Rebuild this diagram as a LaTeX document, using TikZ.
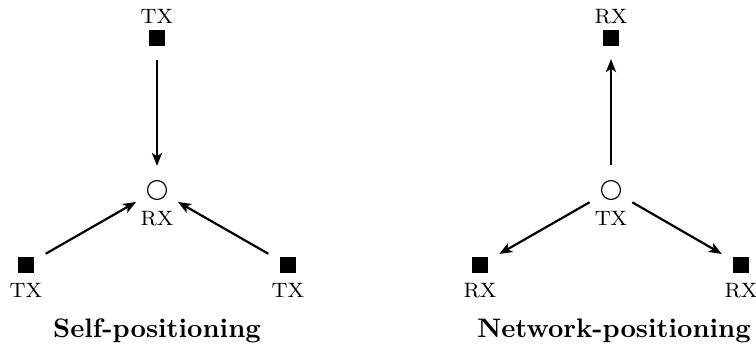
\documentclass[tikz,border=0pt]{standalone}
\usetikzlibrary{arrows.meta}
\begin{document}
\begin{tikzpicture}[x=0.3846pt, y=-0.3846pt,
  dev/.style={draw, fill=black, minimum size=5.4pt, inner sep=0pt, outer sep=0pt},
  hub/.style={draw, circle, line width=0.45pt, minimum size=7.3pt, inner sep=0pt},
  tag/.style={font=\footnotesize, anchor=base, inner sep=0pt},
  title/.style={font=\fontsize{10.3}{12}\selectfont\bfseries, anchor=base, inner sep=0pt},
  link/.style={line width=0.85pt, -{Stealth[length=5pt, width=3.9pt, inset=1.3pt]},
               shorten <=5.6pt, shorten >=5.4pt}]
  \useasboundingbox (0,0) rectangle (756,354);

  % Self-positioning: three transmitters around one receiver
  \node[hub] (sc) at (157,190) {};
  \node[dev] (st) at (157,38) {};
  \node[dev] (sl) at (26,265) {};
  \node[dev] (sr) at (288,265) {};
  \node[tag] (stT) at (157,23) {TX};
  \node[tag] (scT) at (157,225) {RX};
  \node[tag] (slT) at (26,297) {TX};
  \node[tag] (srT) at (288,297) {TX};
  \draw[link] (st) -- (sc);
  \draw[link] (sl) -- (sc);
  \draw[link] (sr) -- (sc);
  \node[title] (sTitle) at (157,337) {Self-positioning};

  % Network-positioning: one transmitter towards three receivers
  \node[hub] (nc) at (611,190) {};
  \node[dev] (nt) at (611,38) {};
  \node[dev] (nl) at (480,265) {};
  \node[dev] (nr) at (741,265) {};
  \node[tag] (ntT) at (611,23) {RX};
  \node[tag] (ncT) at (611,225) {TX};
  \node[tag] (nlT) at (480,297) {RX};
  \node[tag] (nrT) at (741,297) {RX};
  \draw[link] (nc) -- (nt);
  \draw[link] (nc) -- (nl);
  \draw[link] (nc) -- (nr);
  \node[title] (nTitle) at (614,337) {Network-positioning};
\end{tikzpicture}
\end{document}
